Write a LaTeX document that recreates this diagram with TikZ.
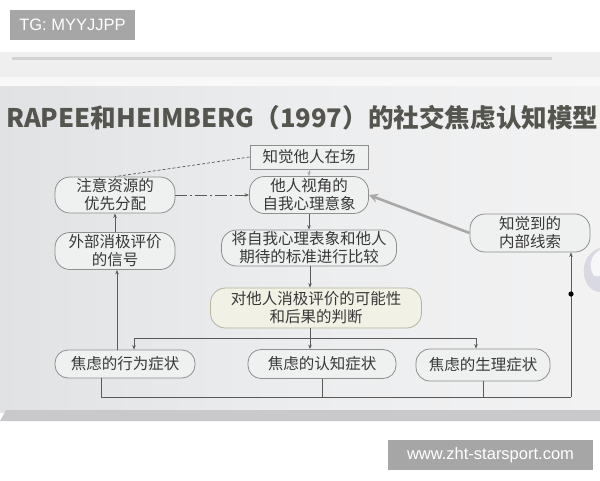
\documentclass[tikz,border=0pt]{standalone}
\usepackage{fontspec}
\setmainfont{Noto Sans CJK SC}
\newfontfamily\wmfont{Liberation Sans}
\usetikzlibrary{arrows.meta}
\definecolor{band}{HTML}{EFEFEF}
\definecolor{bandlight}{HTML}{F8F8F8}
\definecolor{slideL}{HTML}{E1E2E4}
\definecolor{slideM}{HTML}{ECEDEE}
\definecolor{slideR}{HTML}{F2F2F3}
\definecolor{edge}{HTML}{C9C9CC}
\definecolor{blurtxt}{HTML}{D2D2D2}
\definecolor{titlec}{HTML}{55554F}
\definecolor{txt}{HTML}{383838}
\definecolor{bord}{HTML}{8E8E8E}
\definecolor{boxfill}{HTML}{EFF0F0}
\definecolor{creamfill}{HTML}{F2F1E6}
\definecolor{creambord}{HTML}{B5B39A}
\definecolor{lin}{HTML}{5A5A5A}
\definecolor{thick}{HTML}{A8A8A8}
\definecolor{wmgray}{HTML}{A6A6A6}
\definecolor{globe}{HTML}{D9D9E4}
\begin{document}
\begin{tikzpicture}[x=1pt,y=-1pt,
  nfont/.style={font=\fontsize{15.5}{18}\selectfont},
  pill/.style={draw=bord, fill=boxfill, rounded corners=15pt, align=center,
    inner sep=0pt, text=txt, nfont, line width=0.8pt},
  sqbox/.style={draw=bord, fill=boxfill, align=center, inner sep=0pt,
    text=txt, nfont, line width=0.8pt},
  conn/.style={draw=lin, line width=0.7pt},
  arr/.style={conn, -{Stealth[length=4.5pt,width=3.5pt]}},
  wmbox/.style={fill=wmgray, text=white, inner sep=0pt, font=\wmfont\fontsize{16.5}{16.5}\selectfont},
]
\useasboundingbox (0,0) rectangle (600,480);
\clip (0,0) rectangle (600,480);
% page background
\fill[white] (0,0) rectangle (600,480);
\fill[band] (0,52) rectangle (600,77);
\fill[blurtxt] (12,56.5) rectangle (552,59.5);
\fill[bandlight] (0,77) rectangle (600,86);
\shade[left color=slideL, right color=slideR, middle color=slideM] (0,86) rectangle (600,412);
\fill[edge] (0,421) -- (6,410) -- (600,410) -- (600,421) -- cycle;
% globe fragment at right
\fill[globe] (600,248) .. controls (586,252) and (580,268) .. (586,282) .. controls (590,290) and (596,292) .. (600,292) -- cycle;
\fill[white, opacity=0.8] (600,250) .. controls (590,256) and (588,266) .. (594,276) -- (600,276) -- cycle;

% watermarks
\node[wmbox, minimum width=125pt, minimum height=30pt] (wm1) at (72.5,25) {TG: MYYJJPP};
\node[wmbox, minimum width=205pt, minimum height=30pt] (wm2) at (490.5,455) {www.zht-starsport.com};

% title
\node[anchor=west, text=titlec, inner sep=0pt, font=\bfseries\fontsize{25.6}{25.6}\selectfont] (title) at (6,118) {RAPEE和HEIMBERG（1997）的社交焦虑认知模型};

% nodes
\node[sqbox, minimum width=118pt, minimum height=24pt] (n0) at (309,157) {知觉他人在场};
\node[pill, minimum width=120pt, minimum height=36pt] (n1) at (115,195) {注意资源的\\优先分配};
\node[pill, minimum width=119pt, minimum height=37pt] (n2) at (309,195) {他人视角的\\自我心理意象};
\node[pill, minimum width=120pt, minimum height=37pt] (n3) at (115,251) {外部消极评价\\的信号};
\node[pill, minimum width=175pt, minimum height=36pt] (n4) at (309,248) {将自我心理表象和他人\\期待的标准进行比较};
\node[pill, minimum width=120pt, minimum height=38pt] (n5) at (530,233) {知觉到的\\内部线索};
\node[pill, draw=creambord, fill=creamfill, minimum width=211pt, minimum height=40pt] (n6) at (316,308) {对他人消极评价的可能性\\和后果的判断};
\node[pill, rounded corners=13pt, minimum width=140pt, minimum height=28pt] (n7) at (125,364) {焦虑的行为症状};
\node[pill, rounded corners=13pt, minimum width=148pt, minimum height=29pt] (n8) at (322,364) {焦虑的认知症状};
\node[pill, rounded corners=14pt, minimum width=134pt, minimum height=32pt] (n9) at (483,365) {焦虑的生理症状};

% connectors
\draw[conn, densely dashed] (n0.west) -- (n1.north);
\draw[arr, draw=thick] (n0.south) -- (n2.north);
\draw[arr, dash pattern=on 12pt off 3pt on 2pt off 3pt] (n1.east) -- (n2.west);
\draw[arr] (n2.south) -- (n4.north);
\draw[draw=thick, line width=2.6pt, -{Stealth[length=9pt,width=9pt]}] (n5.west) -- (n2.east);
\draw[arr] (n3.north) -- (n1.south);
\draw[arr] (n4.south -| 310,0) -- (n6.north -| 310,0);

% bus from judgement to symptoms
\coordinate (busY) at (0,338);
\draw[arr] (n6.south -| 310,0) -- (n8.north -| 310,0);
\draw[conn] (busY -| 134,0) -- (busY -| 476,0);
\draw[arr] (busY -| 134,0) -- (n7.north -| 134,0);
\draw[arr] (busY -| 476,0) -- (n9.north -| 476,0);
\draw[arr] (n7.north -| 117,0) -- (n3.south -| 117,0);

% feedback bus at bottom
\coordinate (botY) at (0,397);
\coordinate (rightX) at (571,0);
\draw[conn] (n7.south -| 101,0) -- (botY -| 101,0);
\draw[conn] (n8.south) -- (botY -| n8.south);
\draw[conn] (n9.south) -- (botY -| n9.south);
\draw[conn] (botY -| 101,0) -- (botY -| rightX);
\draw[arr] (botY -| rightX) -- (n5.south -| rightX);
\fill[black] (571,294) circle (2.6pt);
\end{tikzpicture}
\end{document}
